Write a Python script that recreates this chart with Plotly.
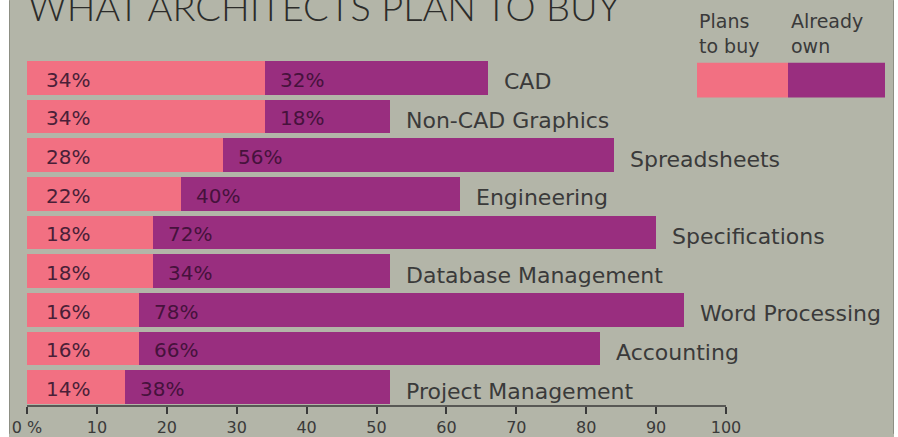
import plotly.graph_objects as go

# Survey data: share of architects planning to buy / already owning each software type
categories = ["CAD", "Non-CAD Graphics", "Spreadsheets", "Engineering", "Specifications",
              "Database Management", "Word Processing", "Accounting", "Project Management"]
plans_to_buy = [34, 34, 28, 22, 18, 18, 16, 16, 14]
already_own = [32, 18, 56, 40, 72, 34, 78, 66, 38]
tick_values = [0, 10, 20, 30, 40, 50, 60, 70, 80, 90, 100]
tick_labels = ["0 %", "10", "20", "30", "40", "50", "60", "70", "80", "90", "100"]

BG = "#b3b5a8"
PINK = "#f27082"
PURPLE = "#992e7f"
INK = "#3a3a3a"
LABEL_FONT = "DejaVu Sans"

W, H = 898, 437
ML, MR, MT, MB = 27, 0, 40, 28
PW, PH = W - ML - MR, H - MT - MB
PX_PER_UNIT = 6.99


def px_x(px):
    return (px - ML) / PW


def px_y(py):
    return (H - MB - py) / PH


rows = list(range(len(categories)))

fig = go.Figure()
fig.add_trace(go.Bar(y=rows, x=plans_to_buy, orientation="h", name="Plans to buy",
                     marker=dict(color=PINK, line=dict(width=0)), width=0.87,
                     hoverinfo="skip"))
fig.add_trace(go.Bar(y=rows, x=already_own, orientation="h", name="Already own",
                     marker=dict(color=PURPLE, line=dict(width=0)), width=0.87,
                     hoverinfo="skip"))

annotations = []
for i, (cat, p, o) in enumerate(zip(categories, plans_to_buy, already_own)):
    annotations.append(dict(x=0, y=i, xref="x", yref="y", text=f"{p}%", showarrow=False,
                            xanchor="left", yanchor="middle", xshift=17, yshift=-2,
                            font=dict(family=LABEL_FONT, size=20, color="#4a1f38")))
    annotations.append(dict(x=p, y=i, xref="x", yref="y", text=f"{o}%", showarrow=False,
                            xanchor="left", yanchor="middle", xshift=13, yshift=-2,
                            font=dict(family=LABEL_FONT, size=20, color="#46123c")))
    annotations.append(dict(x=p + o, y=i, xref="x", yref="y", text=cat, showarrow=False,
                            xanchor="left", yanchor="middle", xshift=14, yshift=-4,
                            font=dict(family=LABEL_FONT, size=22, color=INK)))

# Title
annotations.append(dict(x=px_x(26), y=px_y(6), xref="paper", yref="paper",
                        text="WHAT ARCHITECTS PLAN TO BUY", showarrow=False,
                        xanchor="left", yanchor="middle",
                        font=dict(family="Lato", size=38, color="#2c2c2a", weight=300)))

# Legend key text
for txt, px in [("Plans<br>to buy", 697), ("Already<br>own", 789)]:
    annotations.append(dict(x=px_x(px), y=px_y(33), xref="paper", yref="paper", text=txt,
                            showarrow=False, xanchor="left", yanchor="middle", align="left",
                            font=dict(family=LABEL_FONT, size=19, color=INK)))

shapes = [
    # page margins outside the printed panel
    dict(type="rect", xref="paper", yref="paper", x0=px_x(-5), x1=px_x(9),
         y0=px_y(H + 5), y1=px_y(-5), fillcolor="white", line=dict(width=0), layer="below"),
    dict(type="rect", xref="paper", yref="paper", x0=px_x(894), x1=px_x(W + 5),
         y0=px_y(H + 5), y1=px_y(-5), fillcolor="white", line=dict(width=0), layer="below"),
    dict(type="line", xref="paper", yref="paper", x0=px_x(9.5), x1=px_x(9.5),
         y0=px_y(H), y1=px_y(0), line=dict(color="#8d8f84", width=1), layer="below"),
    dict(type="line", xref="paper", yref="paper", x0=px_x(893.5), x1=px_x(893.5),
         y0=px_y(H), y1=px_y(0), line=dict(color="#8d8f84", width=1), layer="below"),
    # axis baseline spanning 0-100
    dict(type="line", xref="x", yref="paper", x0=0, x1=100, y0=0, y1=0,
         line=dict(color=INK, width=1.5)),
    # legend swatches
    dict(type="rect", xref="paper", yref="paper", x0=px_x(697), x1=px_x(788),
         y0=px_y(98), y1=px_y(63), fillcolor=PINK, line=dict(width=0)),
    dict(type="rect", xref="paper", yref="paper", x0=px_x(788), x1=px_x(885),
         y0=px_y(98), y1=px_y(63), fillcolor=PURPLE, line=dict(width=0)),
]

fig.update_layout(
    width=W, height=H, autosize=False,
    margin=dict(l=ML, r=MR, t=MT, b=MB, pad=0),
    paper_bgcolor=BG, plot_bgcolor="rgba(0,0,0,0)",
    barmode="stack", bargap=0, showlegend=False,
    annotations=annotations, shapes=shapes,
    xaxis=dict(range=[0, PW / PX_PER_UNIT], tickvals=tick_values, ticktext=tick_labels,
               ticks="outside", ticklen=7, tickwidth=1.5, tickcolor=INK,
               showline=False, showgrid=False, zeroline=False, fixedrange=True,
               tickfont=dict(family=LABEL_FONT, size=16, color=INK)),
    yaxis=dict(range=[8.487, -0.974], visible=False, fixedrange=True),
)

fig.write_html("out.html", config={"displayModeBar": False})
